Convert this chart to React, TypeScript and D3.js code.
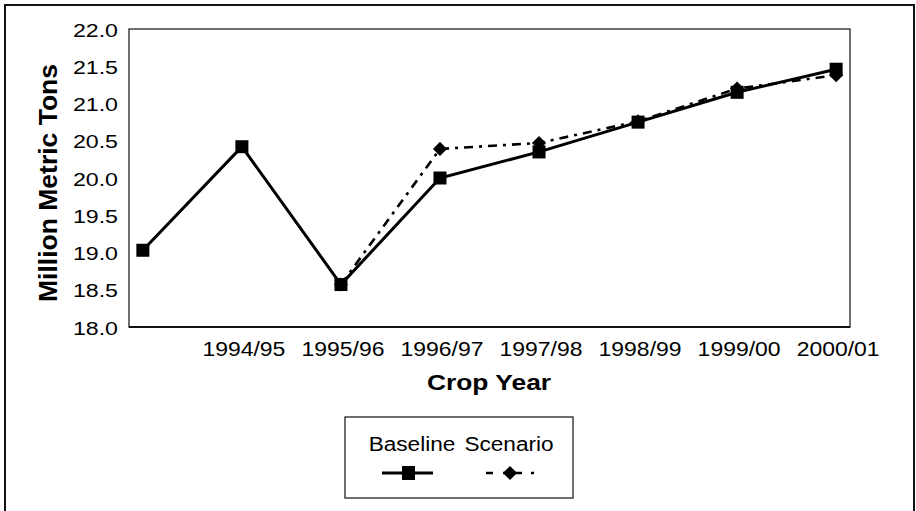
import React, { useRef, useEffect } from "react";
import * as d3 from "d3";

const cropYears = ["1993/94", "1994/95", "1995/96", "1996/97", "1997/98", "1998/99", "1999/00", "2000/01"];
const tickLabels = ["", "1994/95", "1995/96", "1996/97", "1997/98", "1998/99", "1999/00", "2000/01"];
const baseline = [19.03, 20.42, 18.57, 20.0, 20.35, 20.75, 21.15, 21.46];
const scenario = [null, null, 18.57, 20.39, 20.47, 20.76, 21.2, 21.38];
const yTicks = [18.0, 18.5, 19.0, 19.5, 20.0, 20.5, 21.0, 21.5, 22.0];

const W = 916;
const H = 511;
const plot = { left: 129, top: 29, right: 850, bottom: 327 };
const FONT = "'Liberation Sans', Arial, sans-serif";

const App = () => {
    const svgRef = useRef(null);

    useEffect(() => {
        const svg = d3.select(svgRef.current);
        svg.selectAll("*").remove();

        const x = d3.scalePoint().domain(cropYears).range([plot.left, plot.right]).padding(0.14);
        const y = d3.scaleLinear().domain([18, 22]).range([plot.bottom, plot.top]);

        // outer frame (bottom edge runs off the page)
        svg.append("rect")
            .attr("x", 5).attr("y", 5)
            .attr("width", 909).attr("height", H + 20)
            .attr("fill", "none").attr("stroke", "#111").attr("stroke-width", 2);

        // plot frame
        svg.append("rect")
            .attr("x", plot.left).attr("y", plot.top)
            .attr("width", plot.right - plot.left).attr("height", plot.bottom - plot.top)
            .attr("fill", "none").attr("stroke", "#222").attr("stroke-width", 1.3);
        svg.append("line")
            .attr("x1", plot.left).attr("x2", plot.right)
            .attr("y1", plot.bottom).attr("y2", plot.bottom)
            .attr("stroke", "#111").attr("stroke-width", 2);

        // y tick labels
        svg.append("g").selectAll("g")
            .data(yTicks)
            .join("g")
            .attr("transform", (d) => `translate(118,${y(d) + 2.5}) scale(1.22,1)`)
            .append("text")
            .attr("text-anchor", "end")
            .attr("dominant-baseline", "middle")
            .attr("font-family", FONT)
            .attr("font-size", 19)
            .attr("fill", "#000")
            .text((d) => d3.format(".1f")(d));

        // x tick labels
        svg.append("g").selectAll("g")
            .data(cropYears)
            .join("g")
            .attr("transform", (d) => `translate(${x(d) + 2},356) scale(1.12,1)`)
            .append("text")
            .attr("text-anchor", "middle")
            .attr("font-family", FONT)
            .attr("font-size", 20.5)
            .attr("fill", "#000")
            .text((d, i) => tickLabels[i]);

        // axis titles
        svg.append("g")
            .attr("transform", "translate(489,390) scale(1.2,1)")
            .append("text")
            .attr("text-anchor", "middle")
            .attr("font-family", FONT)
            .attr("font-weight", "bold")
            .attr("font-size", 22)
            .text("Crop Year");

        svg.append("text")
            .attr("transform", "translate(57,183) rotate(-90)")
            .attr("text-anchor", "middle")
            .attr("font-family", FONT)
            .attr("font-weight", "bold")
            .attr("font-size", 26.5)
            .text("Million Metric Tons");

        const lineGen = d3.line()
            .defined((d) => d[1] != null)
            .x((d) => x(d[0]))
            .y((d) => y(d[1]));

        const scenPts = cropYears.map((c, i) => [c, scenario[i]]);
        const basePts = cropYears.map((c, i) => [c, baseline[i]]);

        svg.append("path")
            .attr("d", lineGen(scenPts))
            .attr("fill", "none")
            .attr("stroke", "#000")
            .attr("stroke-width", 2.6)
            .attr("stroke-dasharray", "9,6,3,6");

        svg.append("path")
            .attr("d", lineGen(basePts))
            .attr("fill", "none")
            .attr("stroke", "#000")
            .attr("stroke-width", 3);

        const diamond = d3.symbol().type(d3.symbolSquare).size(100);

        svg.append("g").selectAll("path")
            .data(scenPts.filter((d) => d[1] != null))
            .join("path")
            .attr("transform", (d) => `translate(${x(d[0])},${y(d[1])}) rotate(45)`)
            .attr("d", diamond())
            .attr("fill", "#000");

        svg.append("g").selectAll("rect")
            .data(basePts)
            .join("rect")
            .attr("x", (d) => x(d[0]) - 6.5)
            .attr("y", (d) => y(d[1]) - 6.5)
            .attr("width", 13)
            .attr("height", 13)
            .attr("fill", "#000");

        // legend
        const lg = svg.append("g");
        lg.append("rect")
            .attr("x", 345).attr("y", 417)
            .attr("width", 228).attr("height", 81)
            .attr("fill", "#fff").attr("stroke", "#222").attr("stroke-width", 1.3);

        const legendItems = [
            { name: "Baseline", cx: 412 },
            { name: "Scenario", cx: 509 },
        ];
        legendItems.forEach((it) => {
            lg.append("g")
                .attr("transform", `translate(${it.cx},451) scale(1.16,1)`)
                .append("text")
                .attr("text-anchor", "middle")
                .attr("font-family", FONT)
                .attr("font-size", 19.5)
                .text(it.name);
        });
        lg.append("line")
            .attr("x1", 382).attr("x2", 433).attr("y1", 473).attr("y2", 473)
            .attr("stroke", "#000").attr("stroke-width", 3);
        lg.append("rect")
            .attr("x", 402).attr("y", 466).attr("width", 13).attr("height", 14)
            .attr("fill", "#000");
        lg.append("line")
            .attr("x1", 486).attr("x2", 536).attr("y1", 473).attr("y2", 473)
            .attr("stroke", "#000").attr("stroke-width", 2.6)
            .attr("stroke-dasharray", "7,10,19,9,3,20");
        lg.append("path")
            .attr("transform", "translate(510,473) rotate(45)")
            .attr("d", diamond())
            .attr("fill", "#000");
    }, []);

    return (
        <svg
            ref={svgRef}
            width={W}
            height={H}
            style={{ position: "absolute", left: 0, top: 0, background: "#fff" }}
        />
    );
};

export default App;
